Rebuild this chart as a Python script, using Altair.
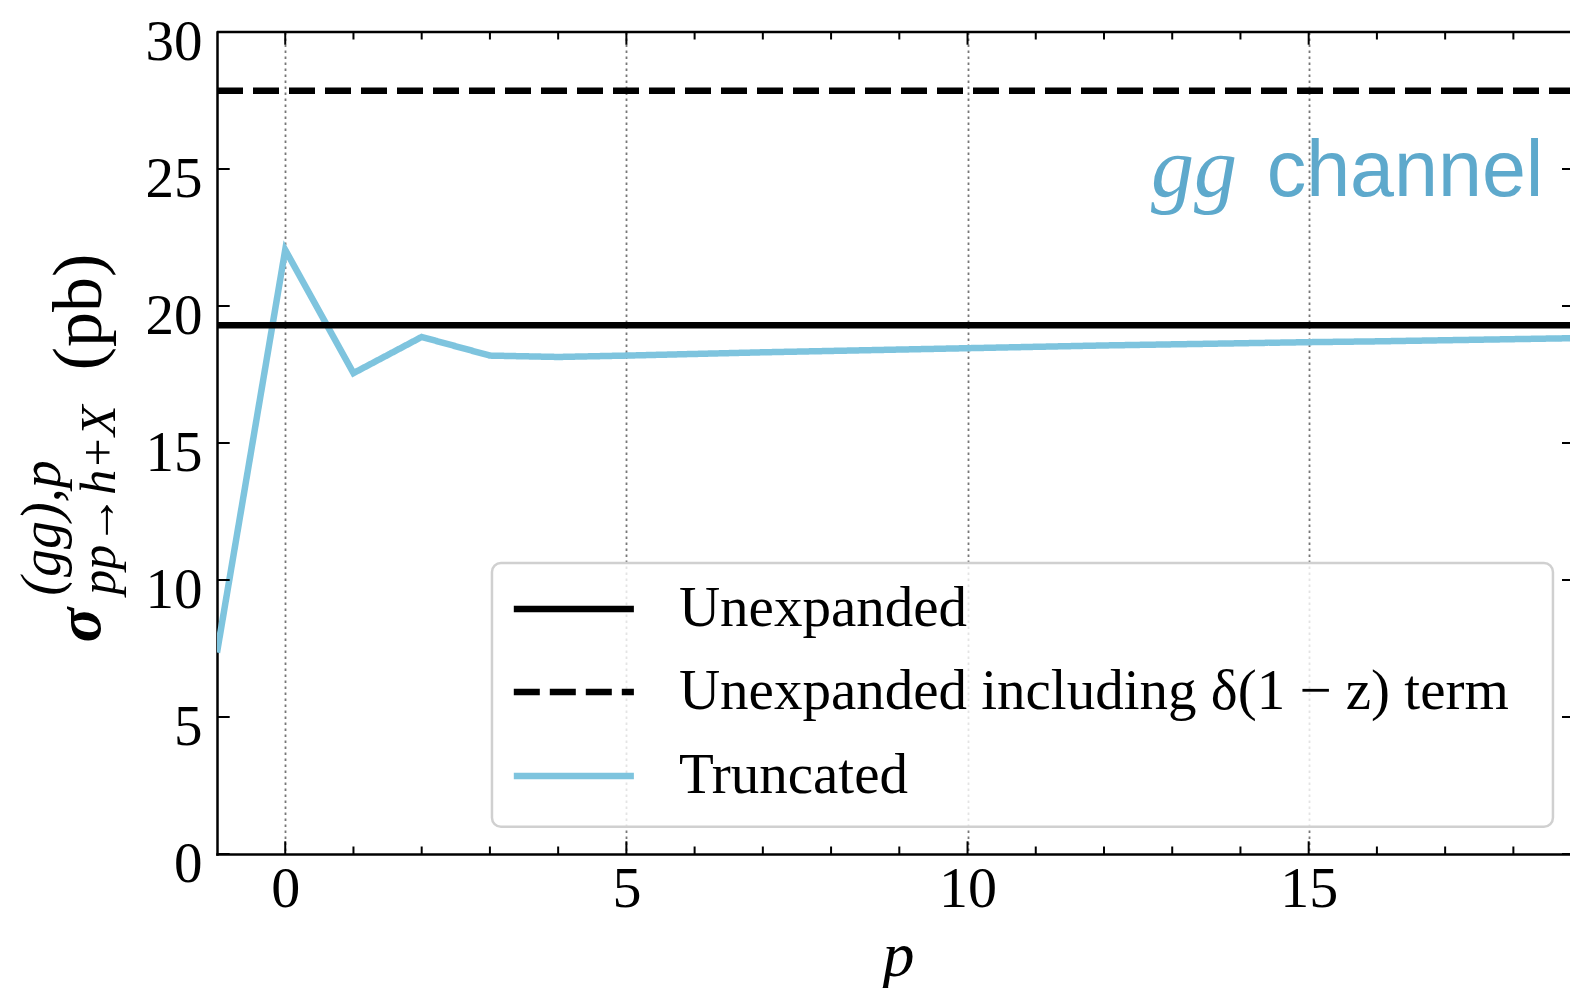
import altair as alt
import pandas as pd

# ---------------- data ----------------
p_vals = list(range(-1, 20))
truncated = [7.35, 22.05, 17.55, 18.87, 18.19, 18.14, 18.19, 18.25, 18.31, 18.36,
             18.41, 18.46, 18.51, 18.56, 18.60, 18.64, 18.68, 18.71, 18.75, 18.79, 18.83]
unexpanded = 19.3
unexpanded_delta = 27.86
x_span = [-1, 19]

series_names = ["Unexpanded", "Unexpanded including δ(1 − z) term", "Truncated"]
series_colors = ["#000000", "#000000", "#7ec4de"]
series_dashes = [[1, 0], [26, 10], [1, 0]]

x_major = [0, 5, 10, 15]
x_minor = [1, 2, 3, 4, 6, 7, 8, 9, 11, 12, 13, 14, 16, 17, 18]
y_ticks = [0, 5, 10, 15, 20, 25, 30]

# legend placement, in data units
legend_box_x = [3.03, 18.58]
legend_box_y = [0.99, 10.62]
legend_row_y = [8.94, 5.91, 2.85]
legend_sample_x = [3.35, 5.11]
legend_text_x = 5.77

# ---------------- layout ----------------
W, H = 1353, 822
X_DOMAIN = [-1, 18.83]
Y_DOMAIN = [0, 30]
SERIF = "Liberation Serif"
BLUE_TEXT = "#5ea9cc"

rows = []
for x, v in zip(p_vals, truncated):
    rows.append({"series": "Truncated", "p": x, "value": v})
for x in x_span:
    rows.append({"series": "Unexpanded", "p": x, "value": unexpanded})
for x in x_span:
    rows.append({"series": "Unexpanded including δ(1 − z) term", "p": x, "value": unexpanded_delta})
df = pd.DataFrame(rows)

leg = pd.DataFrame({
    "series": series_names,
    "p": [legend_sample_x[0]] * 3,
    "p2": [legend_sample_x[1]] * 3,
    "pt": [legend_text_x] * 3,
    "value": legend_row_y,
})

xscale = alt.Scale(domain=X_DOMAIN, nice=False, zero=False)
yscale = alt.Scale(domain=Y_DOMAIN, nice=False, zero=False)
cscale = alt.Scale(domain=series_names, range=series_colors)
dscale = alt.Scale(domain=series_names, range=series_dashes)

one = pd.DataFrame({"k": [0]})

# legend frame
frame = alt.Chart(one).mark_rect(
    cornerRadius=9, fill="white", fillOpacity=0.8, stroke="#d0d0d0", strokeWidth=2.5
).encode(
    x=alt.X(datum=legend_box_x[0], scale=xscale), x2=alt.X2(datum=legend_box_x[1]),
    y=alt.Y(datum=legend_box_y[1], scale=yscale), y2=alt.Y2(datum=legend_box_y[0]),
)

lines = alt.Chart(df).mark_line(strokeWidth=6.5, clip=True, strokeCap="butt").encode(
    x=alt.X("p:Q", scale=xscale,
            axis=alt.Axis(values=x_major, format="d", title="p", grid=True, gridDash=[2.5, 3.5],
                          gridColor="#777777", gridWidth=1.8, labelPadding=6,
                          titleFont=SERIF, titleFontStyle="italic", titleFontSize=64,
                          titleFontWeight="normal", titleBaseline="alphabetic",
                          titleY=121, titleX=681, titleAlign="center",
                          labelOverlap=False, labelFlush=False)),
    y=alt.Y("value:Q", scale=yscale,
            axis=alt.Axis(values=y_ticks, format="d", title="", grid=False, labelPadding=15,
                          labelFontSize=57, labelBaseline="alphabetic", labelOffset=27,
                          labelOverlap=False, labelFlush=False)),
    color=alt.Color("series:N", scale=cscale, legend=None),
    strokeDash=alt.StrokeDash("series:N", scale=dscale, legend=None),
)

legend_lines = alt.Chart(leg).mark_rule(strokeWidth=6.5, strokeCap="butt").encode(
    x=alt.X("p:Q", scale=xscale), x2="p2:Q",
    y=alt.Y("value:Q", scale=yscale),
    color=alt.Color("series:N", scale=cscale, legend=None),
    strokeDash=alt.StrokeDash("series:N", scale=dscale, legend=None),
)
legend_text = alt.Chart(leg).mark_text(
    font=SERIF, fontSize=57, color="black", align="left", baseline="middle"
).encode(
    x=alt.X("pt:Q", scale=xscale), y=alt.Y("value:Q", scale=yscale), text="series:N",
)

# top spine
top_spine = alt.Chart(one).mark_rule(color="black", strokeWidth=2.5).encode(
    x=alt.X(datum=X_DOMAIN[0], scale=xscale), x2=alt.X2(datum=X_DOMAIN[1]),
    y=alt.Y(datum=Y_DOMAIN[1], scale=yscale),
)

# inward ticks
xmaj = pd.DataFrame({"p": x_major})
xmin = pd.DataFrame({"p": x_minor})
yt = pd.DataFrame({"value": y_ticks})
MAJ, MIN = 12.7, 7.5
tick_style = dict(color="black", strokeWidth=2)
ticks = [
    alt.Chart(xmaj).mark_rule(**tick_style).encode(x=alt.X("p:Q", scale=xscale), y=alt.value(H), y2=alt.value(H - MAJ)),
    alt.Chart(xmaj).mark_rule(**tick_style).encode(x=alt.X("p:Q", scale=xscale), y=alt.value(0), y2=alt.value(MAJ)),
    alt.Chart(xmin).mark_rule(**tick_style).encode(x=alt.X("p:Q", scale=xscale), y=alt.value(H), y2=alt.value(H - MIN)),
    alt.Chart(xmin).mark_rule(**tick_style).encode(x=alt.X("p:Q", scale=xscale), y=alt.value(0), y2=alt.value(MIN)),
    alt.Chart(yt).mark_rule(**tick_style).encode(y=alt.Y("value:Q", scale=yscale), x=alt.value(0), x2=alt.value(MAJ)),
    alt.Chart(yt).mark_rule(**tick_style).encode(y=alt.Y("value:Q", scale=yscale), x=alt.value(W), x2=alt.value(W - 8)),
]


def label(text, x, y, **kw):
    return alt.Chart(one).mark_text(text=text, font=SERIF, angle=270, color="black", **kw).encode(
        x=alt.value(x), y=alt.value(y))

# y-axis title pieces (rotated), positions relative to the plot origin
ytitle = [
    label("σ", -117, 593, fontSize=64, fontStyle="italic", fontWeight="bold",
          align="center", baseline="alphabetic"),
    label("(gg),p", -157, 496, fontSize=56, fontStyle="italic",
          align="center", baseline="alphabetic"),
    label("pp→h+X", -102, 468, fontSize=50, fontStyle="italic",
          align="center", baseline="alphabetic"),
    label("(pb)", -116, 280, fontSize=70, align="center", baseline="alphabetic"),
]

# "gg channel" annotation
ann = [
    alt.Chart(one).mark_text(text="gg", font=SERIF, fontStyle="italic", fontSize=86,
                             color=BLUE_TEXT, align="right", baseline="alphabetic").encode(
        x=alt.X(datum=13.95, scale=xscale), y=alt.Y(datum=24.0, scale=yscale)),
    alt.Chart(one).mark_text(text="channel", font="Liberation Sans", fontSize=79,
                             color=BLUE_TEXT, align="right", baseline="alphabetic").encode(
        x=alt.X(datum=18.44, scale=xscale), y=alt.Y(datum=24.0, scale=yscale)),
]

chart = alt.layer(frame, lines, legend_lines, legend_text, top_spine, *ticks, *ytitle, *ann).properties(
    width=W, height=H,
    autosize=alt.AutoSizeParams(type="none"),
    padding={"left": 209, "top": 24, "right": 0, "bottom": 134},
).configure_view(
    stroke=None
).configure_axis(
    domain=True, domainColor="black", domainWidth=2.5, domainCap="square",
    ticks=False, labelFont=SERIF, labelFontSize=58, labelColor="black",
)

chart.save("out.html", embed_options={"renderer": "svg", "actions": False})
